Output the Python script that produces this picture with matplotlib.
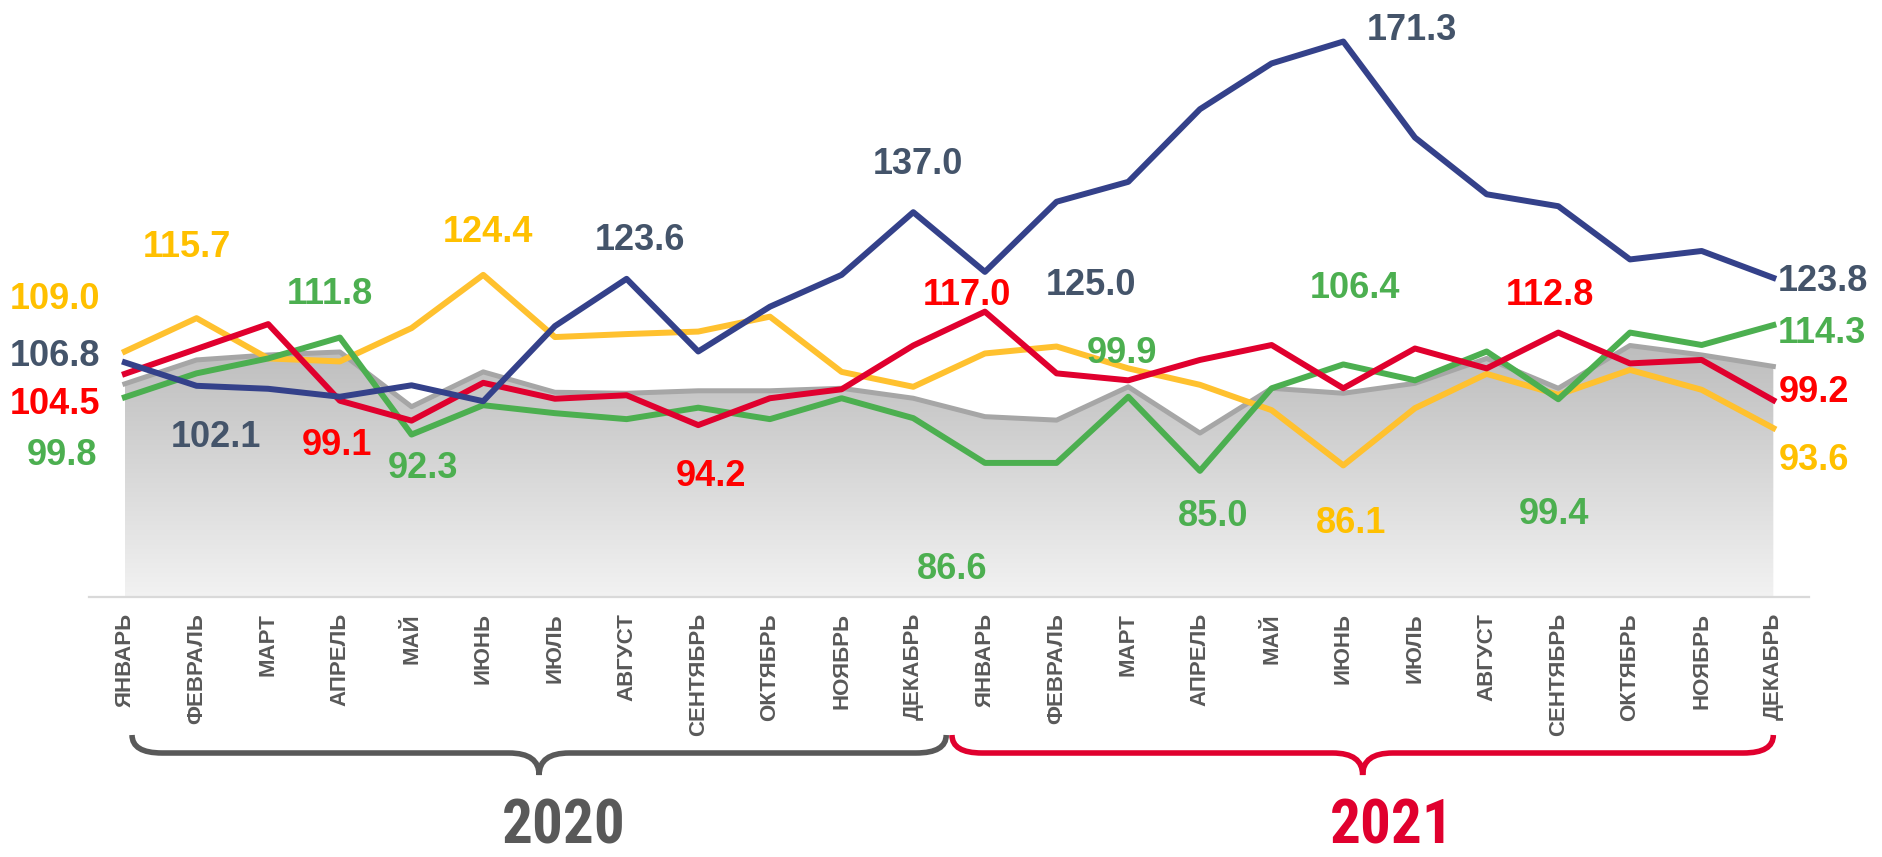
import numpy as np
import matplotlib
matplotlib.use("Agg")
import matplotlib.pyplot as plt
from matplotlib import font_manager
from matplotlib.colors import LinearSegmentedColormap
from matplotlib.path import Path
from matplotlib.patches import PathPatch
from matplotlib.transforms import blended_transform_factory

plt.rcParams['font.family'] = ['Liberation Sans', 'DejaVu Sans']

# ---- данные ----
months = ['ЯНВАРЬ', 'ФЕВРАЛЬ', 'МАРТ', 'АПРЕЛЬ', 'МАЙ', 'ИЮНЬ', 'ИЮЛЬ', 'АВГУСТ',
          'СЕНТЯБРЬ', 'ОКТЯБРЬ', 'НОЯБРЬ', 'ДЕКАБРЬ'] * 2
years = ['2020', '2021']

blue = [106.8, 102.1, 101.5, 99.9, 102.2, 99.0, 114.1, 123.6, 109.0, 118.0, 124.4, 137.0,
        125.0, 139.1, 143.1, 157.7, 166.9, 171.3, 152.0, 140.6, 138.2, 127.5, 129.2, 123.8]
yellow = [109.0, 115.7, 107.6, 107.0, 113.7, 124.4, 111.9, 112.5, 113.0, 116.0, 104.9, 101.9,
          108.6, 110.0, 105.6, 102.3, 97.2, 86.1, 97.6, 104.5, 100.3, 105.3, 101.3, 93.6]
red = [104.5, 109.5, 114.5, 99.1, 95.1, 102.7, 99.5, 100.2, 94.2, 99.6, 101.4, 110.2,
       117.0, 104.6, 103.2, 107.3, 110.3, 101.6, 109.6, 105.6, 112.8, 106.6, 107.3, 99.2]
green = [99.8, 104.6, 107.6, 111.8, 92.3, 98.2, 96.6, 95.4, 97.7, 95.4, 99.6, 95.6,
         86.6, 86.6, 99.9, 85.0, 101.6, 106.4, 103.2, 109.0, 99.4, 112.8, 110.3, 114.3]
gray = [102.5, 107.3, 108.3, 108.9, 97.9, 104.9, 100.8, 100.6, 101.1, 101.1, 101.6, 99.6,
        95.9, 95.2, 101.9, 92.6, 101.6, 100.6, 102.6, 107.6, 101.6, 110.2, 108.3, 106.0]

# подписи: (индекс, dx, dy, выравнивание) в пикселях
blue_lbl = [(0, -25, -9, 'right'), (1, 19, 48, 'center'), (7, 13, -42, 'center'),
            (11, 5, -51, 'center'), (12, 106, 10, 'center'), (17, 69, -15, 'center'),
            (23, 4, 0, 'left')]
yellow_lbl = [(0, -25, -55, 'right'), (1, -10, -74, 'center'), (5, 5, -46, 'center'),
              (17, 8, 55, 'center'), (23, 5, 29, 'left')]
red_lbl = [(0, -25, 27, 'right'), (3, -3, 41, 'center'), (8, 13, 48, 'center'),
           (12, -18, -20, 'center'), (20, -8, -41, 'center'), (23, 5, -11, 'left')]
green_lbl = [(0, -28, 55, 'right'), (3, -10, -47, 'center'), (4, 11, 30, 'center'),
             (12, -33, 103, 'center'), (14, -6, -47, 'center'), (15, 13, 42, 'center'),
             (17, 12, -79, 'center'), (20, -4, 112, 'center'), (23, 4, 5, 'left')]

x = np.arange(len(months))

fig = plt.figure(figsize=(18.82, 8.57), dpi=100)
ax = fig.add_axes([0.0473, 0.3034, 0.9140, 0.6966])

ymin, ymax = 59.65, 179.65

# серая область с градиентом
poly = ax.fill_between(x, ymin, gray, facecolor='none', edgecolor='none')
cmap = LinearSegmentedColormap.from_list('g', ['#F2F2F2', '#BDBDBD'])
grad = np.linspace(0, 1, 256).reshape(-1, 1)
im = ax.imshow(grad, cmap=cmap, origin='lower', aspect='auto',
               extent=[x[0], x[-1], ymin, max(gray)], zorder=1)
im.set_clip_path(poly.get_paths()[0], ax.transData)
ax.plot(x, gray, color='#A6A6A6', lw=3.6, zorder=2)

ax.plot(x, yellow, color='#FFC12F', lw=4.3, zorder=3)
ax.plot(x, green, color='#4CAF50', lw=4.3, zorder=4)
ax.plot(x, red, color='#E0002E', lw=4.3, zorder=5)
ax.plot(x, blue, color='#34418A', lw=4.3, zorder=6)

def labels(vals, spec, color):
    for i, dx, dy, ha in spec:
        ax.annotate(f"{vals[i]:.1f}", (x[i], vals[i]), xytext=(dx, -(dy + 13)),
                    textcoords='offset pixels', ha=ha, va='baseline',
                    fontsize=26, fontweight='bold', color=color, zorder=10)

labels(blue, blue_lbl, '#44546A')
labels(yellow, yellow_lbl, '#FFC000')
labels(red, red_lbl, '#FF0000')
labels(green, green_lbl, '#4CAF50')

ax.set_xlim(-0.5, len(months) - 0.5)
ax.set_ylim(ymin, ymax)
ax.set_xticks(x)
ax.set_xticklabels(months, rotation=90, fontsize=16, fontweight='bold', color='#595959')
ax.tick_params(axis='x', length=0, pad=11.5)
ax.set_yticks([])
for s in ['top', 'left', 'right']:
    ax.spines[s].set_visible(False)
ax.spines['bottom'].set_color('#D9D9D9')
ax.spines['bottom'].set_linewidth(1.6)

# фигурные скобки
tr = blended_transform_factory(ax.transData, fig.transFigure)
H = 857.0
def brace(x0, x1, color):
    r = 0.42
    yt, yh, yp = 1 - 735 / H, 1 - 753 / H, 1 - 775 / H
    m = (x0 + x1) / 2
    verts = [(x0, yt), (x0, yh), (x0 + r, yh), (m - r, yh), (m, yh), (m, yp),
             (m, yh), (m + r, yh), (x1 - r, yh), (x1, yh), (x1, yt)]
    codes = [Path.MOVETO, Path.CURVE3, Path.CURVE3, Path.LINETO, Path.CURVE3, Path.CURVE3,
             Path.CURVE3, Path.CURVE3, Path.LINETO, Path.CURVE3, Path.CURVE3]
    p = PathPatch(Path(verts, codes), facecolor='none', edgecolor=color, lw=4,
                  transform=tr, clip_on=False, capstyle='butt')
    fig.add_artist(p)

brace(0.1, 11.46, '#595959')
brace(11.54, 23.0, '#E0002E')

# узкий жирный шрифт для годов, если есть
yprops = dict(family='Liberation Sans', fontweight='bold', fontsize=40)
narrow = [f for f in font_manager.fontManager.ttflist
          if f.weight in ('bold', 700) and ('Narrow' in f.name or f.stretch == 'condensed')]
narrow.sort(key=lambda f: ('Liberation' not in f.name, 'Roboto' not in f.name))
if narrow:
    yprops = dict(fontproperties=font_manager.FontProperties(fname=narrow[0].fname, size=44))

fig.text(564 / 1882, 1 - 826 / H, years[0], ha='center', va='center',
         color='#595959', **yprops)
fig.text(1392 / 1882, 1 - 826 / H, years[1], ha='center', va='center',
         color='#E0002E', **yprops)

fig.savefig('out.png', dpi=100)
